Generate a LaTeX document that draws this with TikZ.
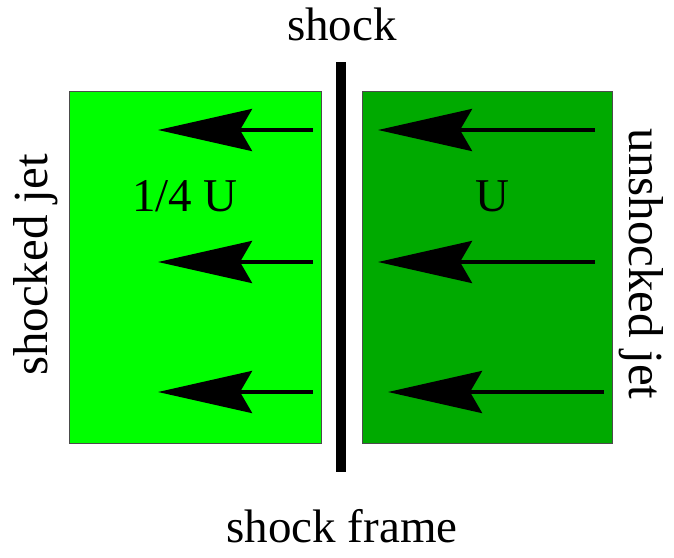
\documentclass[tikz,border=0pt]{standalone}
\usepackage{fontspec}
\setmainfont{Liberation Serif}
\usetikzlibrary{arrows.meta}
\tikzset{
  jetbox/.style={draw=black!70, line width=1pt, minimum width=#1, minimum height=352pt, inner sep=0pt},
  flow/.style={line width=4pt, -{Stealth[length=94pt, width=42pt, inset=12pt]}},
  lbl/.style={font=\fontsize{47}{50}\selectfont, inner sep=0pt},
  sidelbl/.style={font=\fontsize{49}{52}\selectfont, inner sep=0pt}
}
\begin{document}
\begin{tikzpicture}[x=1pt, y=-1pt]
        \useasboundingbox (0,0) rectangle (674,557);
        % Jet regions
        \node[jetbox=252pt, fill={rgb,255:red,0;green,255;blue,0}] (shocked) at (195,267) {};
        \node[jetbox=250pt, fill={rgb,255:red,0;green,170;blue,0}] (unshocked) at (487,267) {};
        % Shock surface
        \coordinate (shtop) at (341,62);
        \coordinate (shbot) at (341,472);
        \draw[line width=10pt] (shtop) -- (shbot);
        % Velocity arrows
        \foreach \i/\y/\xa/\xb in {1/130/595/378, 2/262/595/378, 3/392/604/388} {
             \coordinate (ls\i) at (313,\y);
             \coordinate (le\i) at (158,\y);
             \coordinate (rs\i) at (\xa,\y);
             \coordinate (re\i) at (\xb,\y);
             \draw[flow] (ls\i) -- (le\i);
             \draw[flow] (rs\i) -- (re\i);
        }
        % Labels
        \node[lbl] (shocklbl) at (342,24) {shock};
        \node[lbl] (framelbl) at (342,526) {shock frame};
        \node[lbl] (slow) at (185,196) {1/4 U};
        \node[lbl] (fast) at (492,196) {U};
        \node[sidelbl, rotate=90] (sjet) at (36,265) {shocked jet};
        \node[sidelbl, rotate=-90] (ujet) at (641,264) {unshocked jet};
\end{tikzpicture}
\end{document}
